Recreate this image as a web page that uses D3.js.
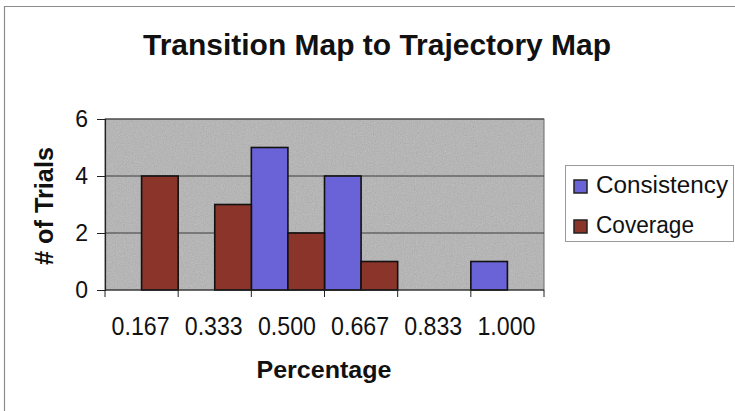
<!DOCTYPE html>
<html>
<head>
<meta charset="utf-8">
<script src="https://cdn.jsdelivr.net/npm/d3@7"></script>
<style>
  html, body { margin: 0; padding: 0; background: #fff; }
  svg { display: block; }
  text { font-family: "Liberation Sans", Arial, sans-serif; fill: #111; }
</style>
</head>
<body>
<svg id="chart" width="735" height="411"></svg>
<script>
const categories = ["0.167", "0.333", "0.500", "0.667", "0.833", "1.000"];
const seriesNames = ["Consistency", "Coverage"];
const consistency = [0, 0, 5, 4, 0, 1];
const coverage = [4, 3, 2, 1, 0, 0];
const yTicks = [0, 2, 4, 6];
const colors = ["#6a63d8", "#8a342a"];

const svg = d3.select("#chart");
const W = 735, H = 411;
const plot = { left: 105, right: 544, top: 119, bottom: 290 };

// noise filter for the plot background
const defs = svg.append("defs");
const f = defs.append("filter").attr("id", "noise").attr("x", 0).attr("y", 0).attr("width", "100%").attr("height", "100%");
f.append("feTurbulence").attr("type", "fractalNoise").attr("baseFrequency", 0.9).attr("numOctaves", 2).attr("seed", 3).attr("result", "t");
f.append("feColorMatrix").attr("type", "saturate").attr("values", 0);

// chart frame (left + top borders visible)
svg.append("path")
  .attr("d", `M4.5,${H} V6.5 H${W}`)
  .attr("fill", "none").attr("stroke", "#8c8c8c").attr("stroke-width", 1.2);

const x = d3.scaleBand().domain(categories).range([plot.left, plot.right]).padding(0);
const xs = d3.scaleBand().domain(seriesNames).range([0, x.bandwidth()]).padding(0);
const y = d3.scaleLinear().domain([0, 6]).range([plot.bottom, plot.top]);

// plot background
svg.append("rect")
  .attr("x", plot.left).attr("y", plot.top)
  .attr("width", plot.right - plot.left).attr("height", plot.bottom - plot.top)
  .attr("fill", "#b4b4b4");
svg.append("rect")
  .attr("x", plot.left).attr("y", plot.top)
  .attr("width", plot.right - plot.left).attr("height", plot.bottom - plot.top)
  .attr("filter", "url(#noise)").attr("opacity", 0.4);
svg.append("rect")
  .attr("x", plot.left).attr("y", plot.top)
  .attr("width", plot.right - plot.left).attr("height", plot.bottom - plot.top)
  .attr("fill", "none").attr("stroke", "#6a6a6a").attr("stroke-width", 1);

// gridlines
svg.append("g").selectAll("line").data(yTicks.filter(d => d > 0)).join("line")
  .attr("x1", plot.left).attr("x2", plot.right)
  .attr("y1", d => y(d)).attr("y2", d => y(d))
  .attr("stroke", "#3c3c3c").attr("stroke-width", 1);

// bars
const data = seriesNames.map((s, i) => ({ name: s, color: colors[i], values: i === 0 ? consistency : coverage }));
data.forEach(s => {
  svg.append("g").selectAll("rect").data(s.values.map((v, j) => ({ c: categories[j], v })).filter(d => d.v > 0)).join("rect")
    .attr("x", d => x(d.c) + xs(s.name))
    .attr("y", d => y(d.v))
    .attr("width", xs.bandwidth())
    .attr("height", d => y(0) - y(d.v))
    .attr("fill", s.color)
    .attr("stroke", "#111").attr("stroke-width", 1.6);
});

// y axis
const yAxis = svg.append("g").attr("transform", `translate(${plot.left},0)`)
  .call(d3.axisLeft(y).tickValues(yTicks).tickSize(8).tickPadding(9).tickFormat(d3.format("d")));
yAxis.select(".domain").attr("stroke", "#222").attr("stroke-width", 1.2);
yAxis.selectAll(".tick line").attr("stroke", "#222");
yAxis.selectAll("text").attr("font-size", 23).attr("fill", "#111").style("font-family", "'Liberation Sans', Arial, sans-serif");

// x axis: ticks at category boundaries
const boundaries = categories.map(c => x(c)).concat([x(categories[categories.length - 1]) + x.bandwidth()]);
const xAxisG = svg.append("g");
xAxisG.append("line").attr("x1", plot.left).attr("x2", plot.right).attr("y1", plot.bottom).attr("y2", plot.bottom)
  .attr("stroke", "#222").attr("stroke-width", 1.2);
xAxisG.selectAll("line.tk").data(boundaries).join("line").attr("class", "tk")
  .attr("x1", d => d).attr("x2", d => d).attr("y1", plot.bottom).attr("y2", plot.bottom + 7)
  .attr("stroke", "#222");
xAxisG.selectAll("text").data(categories).join("text")
  .attr("x", d => x(d) + x.bandwidth() / 2 - 1)
  .attr("y", 335)
  .attr("text-anchor", "middle")
  .attr("font-size", 25)
  .attr("textLength", 58).attr("lengthAdjust", "spacingAndGlyphs")
  .text(d => d);

// title
svg.append("text")
  .attr("x", 377).attr("y", 55)
  .attr("text-anchor", "middle")
  .attr("font-size", 30).attr("font-weight", "bold")
  .attr("textLength", 468).attr("lengthAdjust", "spacingAndGlyphs")
  .text("Transition Map to Trajectory Map");

// axis titles
svg.append("text")
  .attr("x", 324).attr("y", 378)
  .attr("text-anchor", "middle")
  .attr("font-size", 23).attr("font-weight", "bold")
  .attr("textLength", 135).attr("lengthAdjust", "spacingAndGlyphs")
  .text("Percentage");

svg.append("text")
  .attr("transform", "translate(53,206) rotate(-90)")
  .attr("text-anchor", "middle")
  .attr("font-size", 25).attr("font-weight", "bold")
  .attr("textLength", 118).attr("lengthAdjust", "spacingAndGlyphs")
  .text("# of Trials");

// legend
const lg = svg.append("g");
lg.append("rect").attr("x", 565.5).attr("y", 165.5).attr("width", 168).attr("height", 76)
  .attr("fill", "#fff").attr("stroke", "#9a9a9a").attr("stroke-width", 1);
const items = lg.selectAll("g.item").data(data).join("g").attr("class", "item")
  .attr("transform", (d, i) => `translate(0,${i * 40})`);
items.append("rect").attr("x", 574).attr("y", 180).attr("width", 13).attr("height", 13)
  .attr("fill", d => d.color).attr("stroke", "#222").attr("stroke-width", 1.5);
items.append("text").attr("x", 596).attr("y", 193)
  .attr("font-size", 23)
  .attr("textLength", d => d.name === "Consistency" ? 132 : 98).attr("lengthAdjust", "spacingAndGlyphs")
  .text(d => d.name);
</script>
</body>
</html>
